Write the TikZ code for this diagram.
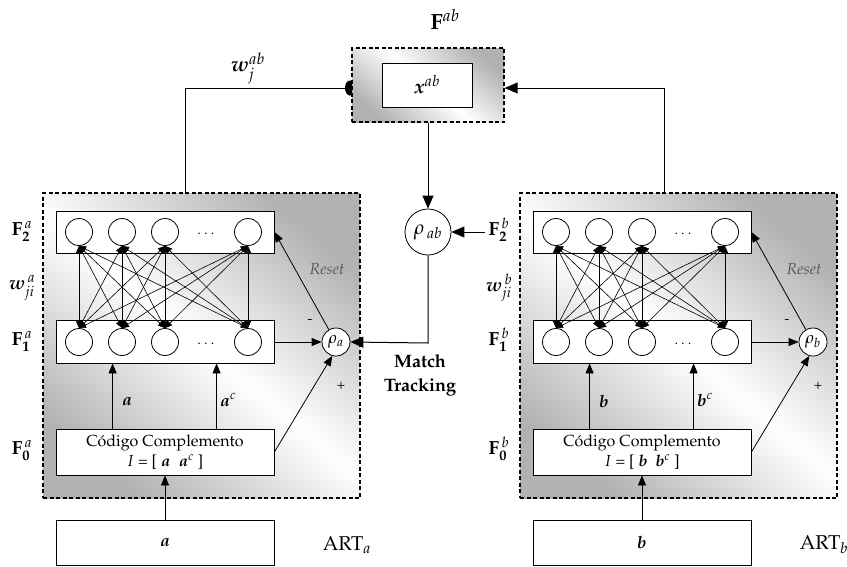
\documentclass[tikz,border=0pt]{standalone}
\usepackage[T1]{fontenc}
\usepackage{mathpazo}
\usepackage{bm}
\usetikzlibrary{arrows.meta,shapes.geometric,calc}
\tikzset{
  modbox/.style={draw, dash pattern=on 4pt off 2.5pt, line width=1.3pt, shading=axis,
    top color=black!30, bottom color=black!30, middle color=white, shading angle=-40},
  layerbox/.style={draw, line width=0.8pt, fill=white, inner sep=0pt},
  neuron/.style={circle, draw, line width=0.8pt, fill=white, minimum size=27pt, inner sep=0pt},
  rhonode/.style={circle, draw, line width=0.8pt, fill=white, inner sep=0pt},
  bigarr/.style={line width=1pt, -{Triangle[length=13pt,width=11pt]}},
  midarr/.style={line width=0.8pt, -{Triangle[length=10pt,width=8pt]}},
  netarr/.style={line width=0.6pt, {Triangle[length=7pt,width=6pt]}-{Triangle[length=7pt,width=6pt]}},
  lbl/.style={font=\fontsize{19}{22}\selectfont},
  small/.style={font=\fontsize{14}{16}\selectfont},
}
\begin{document}
\begin{tikzpicture}[x=1pt,y=-1pt]
\useasboundingbox (0,0) rectangle (847,566);

% ---- F^ab block
\node[ellipse, fill=black, minimum width=10pt, minimum height=15pt, inner sep=0pt] (blob) at (350,88) {};
\node[modbox, minimum width=152pt, minimum height=74pt] (fab) at (428,85) {};
\node[layerbox, minimum width=90pt, minimum height=44pt, font=\fontsize{20}{22}\selectfont] (xab) at (427,85) {$\bm{x}^{ab}$};
\node[font=\fontsize{22}{24}\selectfont] (fablbl) at (445,19) {$\mathbf{F}^{ab}$};
\node[font=\fontsize{21}{24}\selectfont] (wab) at (248,68) {$\bm{w}_{j}^{ab}$};

% ---- the two ART modules
\foreach \s/\o in {a/0, b/477} {
  \node[modbox, minimum width=317pt, minimum height=305pt] (M\s) at (201.5+\o,345.5) {};
  \node[layerbox, minimum width=218pt, minimum height=42pt] (F2\s) at (165+\o,232) {};
  \node[layerbox, minimum width=218pt, minimum height=43pt] (F1\s) at (165+\o,341.5) {};
  \foreach \i/\x in {1/79,2/122,3/165,4/248} {
    \node[neuron] (t\s\i) at (\x+\o,232) {};
    \node[neuron] (b\s\i) at (\x+\o,342) {};
  }
  \node[small] (dt\s) at (206+\o,234) {$\cdots$};
  \node[small] (db\s) at (206+\o,344) {$\cdots$};
  \foreach \i in {1,...,4} {
    \foreach \j in {1,...,4} {
      \draw[netarr] (b\s\i.north) -- (t\s\j.south);
    }
  }
  \node[rhonode, minimum size=28pt, font=\fontsize{17}{18}\selectfont] (rho\s) at (336+\o,342) {$\rho_{\s}$};
  \node[layerbox, minimum width=218pt, minimum height=46pt, align=center,
        font=\fontsize{16}{20}\selectfont] (C\s) at (165+\o,452)
        {C\'odigo Complemento\\$I$ = [ $\bm{\s}$\ \ $\bm{\s}^{c}$ ]};
  \node[layerbox, minimum width=218pt, minimum height=45pt, font=\fontsize{17}{18}\selectfont] (in\s) at (165+\o,543) {$\bm{\s}$};

  % arrows inside module
  \draw[midarr] (F1\s.east |- rho\s) -- (rho\s.west);
  \draw[midarr] (rho\s.120) -- (F2\s.east);
  \draw[midarr] (C\s.east) -- (rho\s.255);
  \draw[midarr] ($(C\s.north west)+(57,0)$) -- ($(F1\s.south west)+(57,0)$);
  \draw[midarr] ($(C\s.north west)+(161,0)$) -- ($(F1\s.south west)+(161,0)$);
  \draw[midarr] (in\s.north) -- (C\s.south);

  % labels
  \node[lbl] (L2\s) at (22+\o,232) {$\mathbf{F}^{\,\s\vphantom{b}}_{\mathbf{2}\vphantom{j}}$};
  \node[lbl] (Lw\s) at (22+\o,288) {$\bm{w}^{\,\s}_{ji}$};
  \node[lbl] (L1\s) at (22+\o,342) {$\mathbf{F}^{\,\s\vphantom{b}}_{\mathbf{1}\vphantom{j}}$};
  \node[lbl] (L0\s) at (22+\o,451) {$\mathbf{F}^{\,\s\vphantom{b}}_{\mathbf{0}\vphantom{j}}$};
  \node[font=\fontsize{17}{18}\selectfont] (la\s) at (127+\o,402) {$\bm{\s}$};
  \node[font=\fontsize{17}{18}\selectfont] (lac\s) at (228+\o,400) {$\bm{\s}^{c}$};
  \node[font=\fontsize{16}{18}\selectfont, text=black!65] (rs\s) at (327+\o,269) {\textit{Reset}};
  \node[small] (mi\s) at (310+\o,322) {-};
  \node[small] (pl\s) at (341+\o,386) {+};
  \node[font=\fontsize{20}{22}\selectfont] (art\s) at (347+\o,545) {ART$_{\s}$};
}

% ---- map field connections
\coordinate (ta) at (185,88);
\coordinate (tb) at (664,88);
\draw[line width=1pt] (Ma.north -| ta) -- (ta) -- (blob);
\draw[bigarr] (Mb.north -| tb) -- (tb) -- (fab.east |- tb);

\node[rhonode, minimum size=46pt, font=\fontsize{20}{22}\selectfont] (rhoab) at (428,232) {$\rho_{\,ab}$};
\draw[bigarr] (fab.south) -- (rhoab.north);
\draw[bigarr] (L2b.west) -- (rhoab.east);
\coordinate (mt) at (428,343);
\draw[bigarr] (rhoab.south) -- (mt) -- (rhoa.east);
\node[align=center, font=\fontsize{18}{24}\selectfont\bfseries] (mtl) at (420,375) {Match\\Tracking};
\end{tikzpicture}
\end{document}
